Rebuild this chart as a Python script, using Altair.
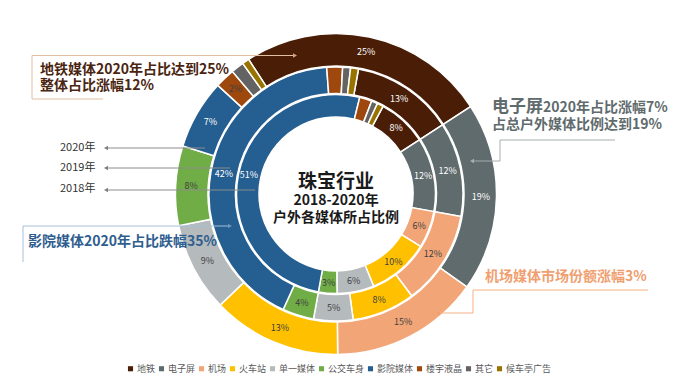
import math
import altair as alt
import pandas as pd

FONT = "Noto Sans CJK SC"

categories = ["地铁", "电子屏", "机场", "火车站", "单一媒体", "公交车身", "影院媒体", "楼宇液晶", "其它", "候车亭广告"]
colors = ["#4A1D07", "#5F6B6D", "#F2A678", "#FFC000", "#B5BABD", "#70AD47", "#255E91", "#9E480E", "#636363", "#997300"]
share_2018 = [8, 12, 6, 10, 6, 3, 51, 2, 1, 1]
share_2019 = [13, 12, 12, 8, 5, 4, 42, 2, 1, 1]
share_2020 = [25, 19, 15, 13, 9, 8, 7, 2, 1.3, 0.7]
# clockwise drawing order (电子屏 first, 地铁 last)
draw_order = [9, 0, 1, 2, 3, 4, 5, 6, 7, 8]
dark_cats = ["地铁", "电子屏", "影院媒体"]

START = math.radians(57)
CX, CY = 328, 186

rows = []
for year, shares, min_lab in [(2018, share_2018, 3), (2019, share_2019, 3), (2020, share_2020, 2)]:
    for cat, v, o in zip(categories, shares, draw_order):
        rows.append({
            "year": year, "cat": cat, "value": v, "ord": o,
            "label": f"{round(v)}%" if v >= min_lab else "",
            "lc": "#FFFFFF" if cat in dark_cats else "#404040",
        })
df = pd.DataFrame(rows)

rings = {2020: (128, 160.5, 145), 2019: (100.5, 127, 114), 2018: (77, 99.5, 89)}

theta_scale = alt.Scale(domain=[0, 100], range=[START, START + 2 * math.pi])
legend = alt.Legend(orient="none", legendX=118, legendY=356, direction="horizontal", title=None,
                    symbolType="square", symbolSize=26, symbolStrokeWidth=0, labelFontSize=9,
                    labelFont=FONT, labelColor="#595959", columnPadding=1, labelOffset=2)

layers = []
for year, (r_in, r_out, r_lab) in rings.items():
    base = alt.Chart(df).transform_filter(alt.datum.year == year)
    arc = base.mark_arc(radius=r_out, radius2=r_in, stroke="white", strokeWidth=1.5).encode(
        theta=alt.Theta("value:Q", stack=True, scale=theta_scale),
        color=alt.Color("cat:N", scale=alt.Scale(domain=categories, range=colors), legend=legend),
        order=alt.Order("ord:Q"),
        x=alt.value(CX), y=alt.value(CY),
    )
    lab = base.mark_text(radius=r_lab, fontSize=9, font=FONT).encode(
        theta=alt.Theta("value:Q", stack=True, scale=theta_scale),
        order=alt.Order("ord:Q"),
        detail="cat:N",
        text="label:N",
        color=alt.Color("lc:N", scale=None),
        x=alt.value(CX), y=alt.value(CY),
    )
    layers += [arc, lab]

# annotation lines (pixel positions)
seg_x = [24, 24, 24, 98, 98, 98, 15, 15, 492, 492, 492, 465, 465, 465]
seg_x2 = [287, 24, 95, 197, 222, 247, 222, 15, 607, 492, 465, 640, 465, 430]
seg_y = [47.5, 47.5, 91, 140, 160, 182, 218, 218, 132, 132, 153, 282, 282, 305]
seg_y2 = [47.5, 91, 91, 140, 160, 182, 218, 254, 132, 153, 153, 282, 305, 305]
seg_c = ["#E2BFA0"] * 3 + ["#8C8C8C"] * 3 + ["#A7BFD8"] * 2 + ["#A6AEB0"] * 3 + ["#F4B183"] * 3
segs = pd.DataFrame({"x": seg_x, "x2": seg_x2, "y": seg_y, "y2": seg_y2, "c": seg_c})
rules = alt.Chart(segs).mark_rule(strokeWidth=1).encode(
    x=alt.X("x:Q", scale=None, axis=None), x2="x2:Q",
    y=alt.Y("y:Q", scale=None, axis=None), y2="y2:Q",
    color=alt.Color("c:N", scale=None),
)

arr = pd.DataFrame({
    "x": [287, 98, 98, 98, 222, 464, 430],
    "y": [47.5, 140, 160, 182, 218, 153, 305],
    "shape": ["triangle-right", "triangle-left", "triangle-left", "triangle-left", "triangle-right", "triangle-left", "triangle-left"],
    "c": ["#D9A07A", "#808080", "#808080", "#808080", "#6F95BC", "#A6AEB0", "#F0A070"],
})
arrows = alt.Chart(arr).mark_point(filled=True, size=22, opacity=1).encode(
    x=alt.X("x:Q", scale=None, axis=None), y=alt.Y("y:Q", scale=None, axis=None),
    shape=alt.Shape("shape:N", scale=None), color=alt.Color("c:N", scale=None),
)

bold_text = ["地铁媒体2020年占比达到25%", "整体占比涨幅12%", "影院媒体2020年占比跌幅35%", "电子屏",
             "2020年占比涨幅7%", "占总户外媒体比例达到19%", "机场媒体市场份额涨幅3%",
             "珠宝行业", "2018-2020年", "户外各媒体所占比例"]
bold_x = [32, 32, 20, 484, 535, 484, 477, 328, 328, 328]
bold_y = [62, 78, 234, 99, 100, 117, 269, 174, 193, 210]
bold_size = [14, 14, 14, 17, 14, 14, 14, 19, 14, 14]
bold_color = ["#4A2511", "#4A2511", "#2F5E8F", "#5F6B6D", "#5F6B6D", "#5F6B6D", "#F0A070", "#1A1A1A", "#1A1A1A", "#1A1A1A"]
bold_align = ["left"] * 7 + ["center"] * 3
tb = pd.DataFrame({"t": bold_text, "x": bold_x, "y": bold_y, "s": bold_size, "c": bold_color, "a": bold_align})

texts_bold = []
for al in ["left", "center"]:
    texts_bold.append(alt.Chart(tb[tb.a == al]).mark_text(font=FONT, fontWeight="bold", align=al, baseline="middle").encode(
        x=alt.X("x:Q", scale=None, axis=None), y=alt.Y("y:Q", scale=None, axis=None),
        text="t:N", size=alt.Size("s:Q", scale=None), color=alt.Color("c:N", scale=None),
    ))

year_labels = ["2020年", "2019年", "2018年"]
tn = pd.DataFrame({"t": year_labels, "x": [52, 52, 52], "y": [140, 160, 181]})
texts_norm = alt.Chart(tn).mark_text(font=FONT, fontSize=11, align="left", baseline="middle", color="#333333").encode(
    x=alt.X("x:Q", scale=None, axis=None), y=alt.Y("y:Q", scale=None, axis=None), text="t:N",
)

chart = alt.layer(*layers, rules, arrows, *texts_bold, texts_norm).properties(
    width=662, height=370, autosize=alt.AutoSizeParams(type="none"), padding=0,
).configure_view(stroke=None)

chart.save("out.html", embed_options={"renderer": "svg", "actions": False})
